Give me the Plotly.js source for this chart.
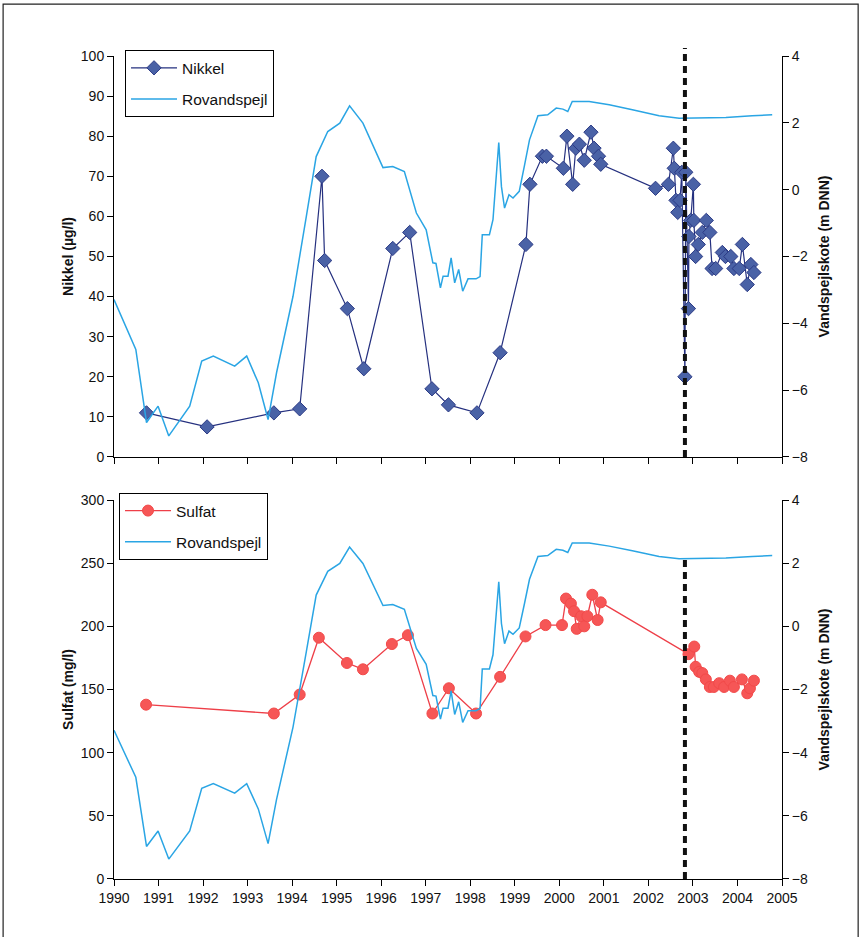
<!DOCTYPE html>
<html>
<head>
<meta charset="utf-8">
<script src="https://cdn.plot.ly/plotly-3.0.1.min.js"></script>
<style>
html,body{margin:0;padding:0;background:#fff;}
#chart{width:861px;height:937px;}
</style>
</head>
<body>
<div id="chart"></div>
<script>
// ---- Data ----
const nickelYear = [1990.73,1992.09,1993.59,1994.17,1994.67,1994.73,1995.24,1995.61,1996.26,1996.64,1997.14,1997.51,1998.15,1998.67,1999.25,1999.34,1999.62,1999.71,2000.09,2000.17,2000.30,2000.37,2000.45,2000.56,2000.71,2000.78,2000.88,2000.93,2002.16,2002.45,2002.56,2002.58,2002.62,2002.66,2002.71,2002.75,2002.82,2002.84,2002.90,2002.91,2002.95,2003.01,2003.02,2003.06,2003.12,2003.21,2003.30,2003.38,2003.43,2003.51,2003.66,2003.73,2003.85,2003.92,2004.04,2004.11,2004.22,2004.30,2004.37];
const nickel = [11,7.5,11,12,70,49,37,22,52,56,17,13,11,26,53,68,75,75,72,80,68,77,78,74,81,77,75,73,67,68,77,72,64,61,64,71,20,71,37,55,59,68,59,50,53,56,59,56,47,47,51,50,50,47,47,53,43,48,46];

const sulfatYear = [1990.72,1993.59,1994.17,1994.60,1995.23,1995.59,1996.24,1996.60,1997.15,1997.52,1998.13,1998.67,1999.24,1999.69,2000.06,2000.15,2000.26,2000.33,2000.39,2000.49,2000.56,2000.63,2000.74,2000.86,2000.93,2002.90,2003.03,2003.06,2003.14,2003.21,2003.29,2003.38,2003.47,2003.59,2003.70,2003.83,2003.92,2004.10,2004.22,2004.28,2004.37];
const sulfat = [138,131,146,191,171,166,186,193,131,151,131,160,192,201,201,222,218,212,198,208,200,208,225,205,219,178,184,168,164,163,158,152,152,155,152,157,152,158,147,151,157];

const rovYear = [1990.00,1990.49,1990.73,1990.99,1991.23,1991.70,1991.97,1992.23,1992.71,1992.98,1993.24,1993.46,1993.65,1994.02,1994.32,1994.54,1994.80,1995.07,1995.29,1995.59,1996.04,1996.26,1996.52,1996.79,1997.01,1997.16,1997.23,1997.33,1997.39,1997.50,1997.57,1997.65,1997.74,1997.83,1997.95,1998.13,1998.22,1998.27,1998.43,1998.51,1998.64,1998.70,1998.77,1998.87,1998.96,1999.10,1999.22,1999.33,1999.52,1999.74,1999.93,2000.08,2000.19,2000.29,2000.67,2001.12,2001.64,2002.24,2002.69,2002.99,2003.74,2004.33,2004.78];
const rov = [-3.29,-4.78,-6.97,-6.48,-7.37,-6.48,-5.13,-4.98,-5.28,-4.98,-5.78,-6.88,-5.48,-3.19,-0.79,0.99,1.74,1.99,2.51,1.99,0.66,0.69,0.54,-0.70,-1.20,-2.19,-2.21,-2.94,-2.59,-2.59,-2.04,-2.79,-2.39,-3.04,-2.67,-2.67,-2.60,-1.35,-1.35,-0.90,1.41,0.09,-0.55,-0.15,-0.25,-0.05,0.74,1.49,2.21,2.24,2.44,2.41,2.34,2.64,2.64,2.54,2.39,2.21,2.14,2.14,2.16,2.21,2.24];

const markerYear = 2002.82;   // dashed reference line
const markerLevelBottom = 2.14;

const xTicks = [1990,1991,1992,1993,1994,1995,1996,1997,1998,1999,2000,2001,2002,2003,2004,2005];

// ---- Styles ----
const FONT = "Liberation Sans, Arial, sans-serif";
const rovColor = '#2aa5e4';

const traces = [
  {x: rovYear, y: rov, name: 'Rovandspejl', type: 'scatter', mode: 'lines',
   line: {color: rovColor, width: 1.5}, xaxis: 'x', yaxis: 'y2', legend: 'legend', legendrank: 2, legendgroup: 'r1'},
  {x: nickelYear, y: nickel, name: 'Nikkel', type: 'scatter', mode: 'lines+markers',
   line: {color: '#25307f', width: 1.2},
   marker: {symbol: 'diamond', size: 11, color: '#4a62a6', line: {color: '#2c3b86', width: 1}},
   xaxis: 'x', yaxis: 'y', legend: 'legend', legendrank: 1, legendgroup: 'n1'},
  {x: rovYear, y: rov, name: 'Rovandspejl', type: 'scatter', mode: 'lines',
   line: {color: rovColor, width: 1.5}, xaxis: 'x2', yaxis: 'y4', legend: 'legend2', legendrank: 2, legendgroup: 'r2'},
  {x: sulfatYear, y: sulfat, name: 'Sulfat', type: 'scatter', mode: 'lines+markers',
   line: {color: '#ee3f48', width: 1.3},
   marker: {symbol: 'circle', size: 11, color: '#f65656', line: {color: '#f24a4a', width: 1}},
   xaxis: 'x2', yaxis: 'y3', legend: 'legend2', legendrank: 1, legendgroup: 's2'}
];

const tickFont = {family: FONT, size: 14, color: '#111'};
const leftTitleFont = {family: FONT, size: 14, color: '#111', weight: 'bold'};
const rightTitleFont = {family: FONT, size: 14, color: '#111', weight: 'bold'};
const legendFont = {family: FONT, size: 15.5, color: '#111'};

const xCommon = {
  range: [1990, 2005], tickmode: 'array', tickvals: xTicks, ticktext: xTicks.map(String),
  ticks: 'outside', ticklen: 6, tickcolor: '#000', showline: true, linecolor: '#000', linewidth: 1,
  showgrid: false, zeroline: false, tickfont: tickFont
};
const yCommon = {
  ticks: 'outside', ticklen: 6, tickcolor: '#000', showline: true, linecolor: '#000', linewidth: 1,
  showgrid: false, zeroline: false, tickfont: tickFont
};

const layout = {
  width: 861, height: 937,
  margin: {l: 114, r: 79, t: 56, b: 58},
  paper_bgcolor: '#fff', plot_bgcolor: '#fff',
  font: {family: FONT, color: '#111'},
  showlegend: true,
  xaxis: Object.assign({}, xCommon, {domain: [0, 1], anchor: 'y', showticklabels: false}),
  xaxis2: Object.assign({}, xCommon, {domain: [0, 1], anchor: 'y3'}),
  yaxis: Object.assign({}, yCommon, {domain: [0.5128, 1], range: [0, 100], dtick: 10, anchor: 'x',
    title: {text: 'Nikkel (µg/l)', font: leftTitleFont, standoff: 3}}),
  yaxis2: Object.assign({}, yCommon, {overlaying: 'y', side: 'right', range: [-8, 4], dtick: 2, anchor: 'x',
    title: {text: 'Vandspejlskote (m DNN)', font: rightTitleFont, standoff: 12}}),
  yaxis3: Object.assign({}, yCommon, {domain: [0, 0.4605], range: [0, 300], dtick: 50, anchor: 'x2',
    title: {text: 'Sulfat (mg/l)', font: leftTitleFont, standoff: 3}}),
  yaxis4: Object.assign({}, yCommon, {overlaying: 'y3', side: 'right', range: [-8, 4], dtick: 2, anchor: 'x2',
    title: {text: 'Vandspejlskote (m DNN)', font: rightTitleFont, standoff: 12}}),
  legend: {x: 0.0165, y: 1.007, xanchor: 'left', yanchor: 'top', bgcolor: '#fff',
    bordercolor: '#000', borderwidth: 1, font: legendFont,
    traceorder: 'grouped', tracegroupgap: 8, itemwidth: 46},
  legend2: {x: 0.0075, y: 0.469, xanchor: 'left', yanchor: 'top', bgcolor: '#fff',
    bordercolor: '#000', borderwidth: 1, font: legendFont,
    traceorder: 'grouped', tracegroupgap: 8, itemwidth: 46},
  shapes: [
    {type: 'line', xref: 'x', yref: 'paper', x0: markerYear, x1: markerYear, y0: 0.5128, y1: 1.0097,
     line: {color: '#111', width: 4, dash: '7px,5px'}},
    {type: 'line', xref: 'x2', yref: 'y4', x0: markerYear, x1: markerYear, y0: -8, y1: markerLevelBottom,
     line: {color: '#111', width: 4, dash: '7px,5px'}},
    {type: 'rect', xref: 'paper', yref: 'paper', x0: -0.166, x1: 1.114, y0: -0.09, y1: 1.063,
     line: {color: '#222', width: 1.2}, fillcolor: 'rgba(0,0,0,0)', layer: 'below'}
  ]
};

Plotly.newPlot('chart', traces, layout, {displayModeBar: false, staticPlot: true});
</script>
</body>
</html>
